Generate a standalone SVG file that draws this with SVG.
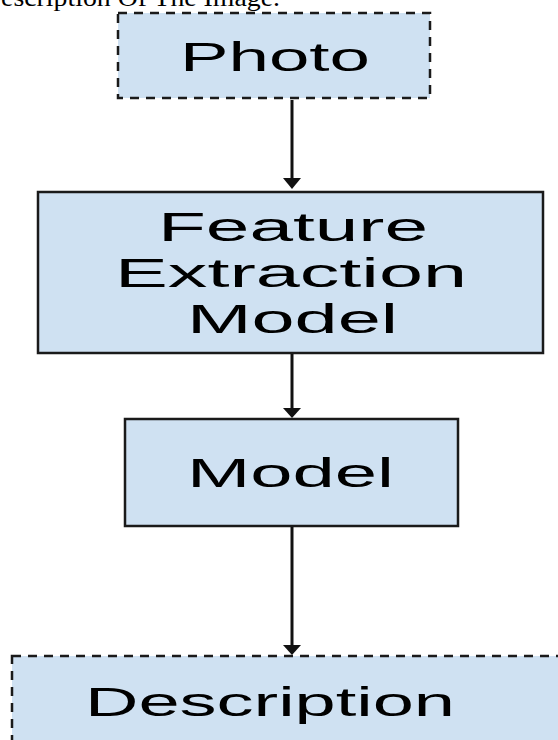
<svg xmlns="http://www.w3.org/2000/svg" width="558" height="740" viewBox="0 0 558 740">
<style>
.box{fill:#cfe1f2;stroke:#1a1a1a;stroke-width:2.5}
.dash{stroke-dasharray:9,7}
.lbl{font-family:"Liberation Sans",Arial,sans-serif;font-size:40px;fill:#000}
.edge{stroke:#111;stroke-width:3;fill:none;marker-end:url(#ah)}
</style>
<defs>
<marker id="ah" markerWidth="8" markerHeight="5" refX="4" refY="4.5" orient="auto" markerUnits="userSpaceOnUse" viewBox="0 0 8 5">
</marker>
</defs>
<text x="-19" y="6" font-family="Liberation Serif,serif" font-size="26" textLength="299" lengthAdjust="spacingAndGlyphs">Description Of The Image.</text>
<g id="photo">
<rect class="box dash" x="118" y="13" width="312" height="85"/>
<text class="lbl" x="180" y="71" textLength="190" lengthAdjust="spacingAndGlyphs">Photo</text>
</g>
<g id="feature">
<rect class="box" x="38" y="192" width="505" height="161"/>
<text class="lbl" x="158" y="241" textLength="270" lengthAdjust="spacingAndGlyphs">Feature</text>
<text class="lbl" x="115" y="287" textLength="352" lengthAdjust="spacingAndGlyphs">Extraction</text>
<text class="lbl" x="187" y="333" textLength="211" lengthAdjust="spacingAndGlyphs">Model</text>
</g>
<g id="model">
<rect class="box" x="125" y="419" width="333" height="107"/>
<text class="lbl" x="187" y="487" textLength="207" lengthAdjust="spacingAndGlyphs">Model</text>
</g>
<g id="description">
<rect class="box dash" x="12" y="656" width="560" height="100"/>
<text class="lbl" x="85" y="716" textLength="370" lengthAdjust="spacingAndGlyphs">Description</text>
</g>
<g id="connectors" fill="#111" stroke="#111">
<line x1="292" y1="100" x2="292" y2="186" stroke-width="3"/>
<path d="M283,178 L301,178 L292,189 Z" stroke="none"/>
<line x1="292" y1="354" x2="292" y2="414" stroke-width="3"/>
<path d="M283,408 L301,408 L292,418 Z" stroke="none"/>
<line x1="292" y1="527" x2="292" y2="650" stroke-width="3"/>
<path d="M283,645 L301,645 L292,655 Z" stroke="none"/>
</g>
</svg>
